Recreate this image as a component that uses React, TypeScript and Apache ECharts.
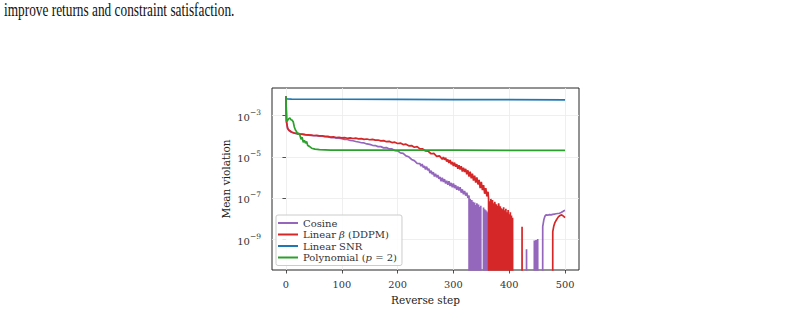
import React, { useEffect, useRef } from "react";
import * as echarts from "echarts";

// Tick positions (x in reverse steps, y as powers of ten)
const xTicks = [0, 100, 200, 300, 400, 500];
const yTickExponents = [-9, -7, -5, -3];

const seriesNames = ["Cosine", "Linear β (DDPM)", "Linear SNR", "Polynomial (p = 2)"];
const seriesColors = ["#9467bd", "#d62728", "#1f77b4", "#2ca02c"];

// Mean constraint violation per reverse step: [step, value]; 0 means no violation
const cosine: [number, number][] = [
  [0, 8.7e-3], [1, 5.0e-4], [3, 2.4e-4], [5, 1.95e-4], [10, 1.56e-4], [15, 1.4e-4],
  [20, 1.33e-4], [25, 1.25e-4], [30, 1.21e-4], [35, 1.16e-4], [40, 1.12e-4], [45, 1.1e-4],
  [50, 1.05e-4], [55, 1.05e-4], [60, 1.0e-4], [65, 1.0e-4], [70, 9.4e-5], [75, 9.3e-5],
  [80, 8.6e-5], [85, 8.6e-5], [90, 8.0e-5], [95, 8.0e-5], [100, 7.6e-5], [105, 7.0e-5],
  [110, 6.9e-5], [115, 6.2e-5], [120, 6.0e-5], [125, 5.5e-5], [130, 5.2e-5], [135, 4.8e-5],
  [140, 4.7e-5], [145, 4.2e-5], [150, 4.0e-5], [155, 3.6e-5], [160, 3.5e-5], [165, 3.1e-5],
  [170, 3.1e-5], [175, 2.7e-5], [180, 2.8e-5], [185, 2.4e-5], [190, 2.4e-5], [195, 2.0e-5],
  [200, 1.95e-5], [205, 1.55e-5], [210, 1.45e-5], [215, 1.1e-5], [220, 1.0e-5], [225, 7.4e-6],
  [230, 6.5e-6], [235, 4.8e-6], [240, 4.6e-6], [242, 3.5e-6], [244, 4.4e-6], [246, 3.0e-6],
  [248, 3.6e-6], [250, 2.4e-6], [252, 3.3e-6], [254, 2.2e-6], [256, 2.6e-6], [258, 1.6e-6],
  [260, 2.1e-6], [262, 1.4e-6], [264, 1.8e-6], [266, 1.1e-6], [268, 1.5e-6], [270, 1.0e-6],
  [272, 1.3e-6], [274, 8.5e-7], [276, 1.05e-6], [278, 6.5e-7], [280, 9.5e-7], [282, 6.0e-7],
  [284, 8.2e-7], [286, 5.0e-7], [288, 6.8e-7], [290, 4.4e-7], [292, 6.5e-7], [294, 3.8e-7],
  [296, 5.4e-7], [298, 3.3e-7], [300, 5.0e-7], [302, 3.0e-7], [304, 4.2e-7], [306, 2.5e-7],
  [308, 3.6e-7], [310, 2.3e-7], [312, 3.3e-7], [314, 1.8e-7], [316, 2.6e-7], [318, 1.5e-7],
  [320, 2.2e-7], [322, 1.3e-7], [324, 1.8e-7], [326, 1.0e-7], [328, 1.3e-7], [329, 0],
  [330, 9.0e-8], [331, 5.5e-8], [332, 0], [333, 8.0e-8], [334, 0], [335, 6.5e-8], [336, 4.0e-8],
  [337, 0], [338, 6.0e-8], [339, 0], [340, 4.5e-8], [341, 0], [342, 5.5e-8], [343, 3.5e-8],
  [344, 0], [345, 4.8e-8], [346, 0], [347, 3.6e-8], [348, 0], [349, 4.2e-8], [350, 0],
  [353, 0], [354, 3.4e-8], [355, 0], [356, 2.8e-8], [357, 0], [358, 2.5e-8], [359, 0],
  [360, 2.2e-8], [361, 0], [362, 1.9e-8], [363, 0], [430, 0], [431, 3.2e-10], [432, 0],
  [444, 0], [445, 8.5e-10], [446, 0], [448, 9.0e-10], [449, 0], [451, 1.0e-9], [452, 0],
  [459, 0], [460, 4.0e-9], [462, 8.7e-9], [464, 1.3e-8], [466, 1.5e-8], [469, 1.45e-8],
  [472, 1.55e-8], [475, 1.5e-8], [478, 1.6e-8], [481, 1.65e-8], [484, 1.7e-8], [487, 1.75e-8],
  [490, 1.8e-8], [493, 1.95e-8], [496, 2.2e-8], [498, 2.4e-8], [500, 2.5e-8],
];

const linearBeta: [number, number][] = [
  [0, 8.7e-3], [1, 5.0e-4], [3, 2.4e-4], [5, 2.0e-4], [10, 1.6e-4], [15, 1.42e-4],
  [20, 1.37e-4], [25, 1.27e-4], [30, 1.25e-4], [35, 1.18e-4], [40, 1.16e-4], [45, 1.13e-4],
  [50, 1.08e-4], [55, 1.09e-4], [60, 1.03e-4], [65, 1.04e-4], [70, 9.8e-5], [75, 9.7e-5],
  [80, 9.0e-5], [85, 9.2e-5], [90, 8.6e-5], [95, 8.8e-5], [100, 8.2e-5], [105, 8.5e-5],
  [110, 7.9e-5], [115, 8.3e-5], [120, 7.7e-5], [125, 8.0e-5], [130, 7.4e-5], [135, 7.6e-5],
  [140, 7.0e-5], [145, 7.3e-5], [150, 6.7e-5], [155, 7.0e-5], [160, 6.4e-5], [165, 6.5e-5],
  [170, 5.9e-5], [175, 6.1e-5], [180, 5.4e-5], [185, 5.6e-5], [190, 4.9e-5], [195, 5.1e-5],
  [200, 4.4e-5], [205, 4.6e-5], [210, 3.9e-5], [215, 4.1e-5], [220, 3.4e-5], [225, 3.5e-5],
  [230, 2.9e-5], [235, 3.1e-5], [240, 2.4e-5], [245, 2.4e-5], [250, 1.9e-5], [255, 1.85e-5],
  [260, 1.4e-5], [265, 1.45e-5], [270, 1.05e-5], [275, 1.1e-5], [280, 7.6e-6], [282, 9.5e-6],
  [284, 7.2e-6], [286, 8.9e-6], [288, 5.8e-6], [290, 7.4e-6], [292, 5.0e-6], [294, 6.9e-6],
  [296, 4.3e-6], [298, 5.6e-6], [300, 3.6e-6], [302, 5.2e-6], [304, 3.3e-6], [306, 4.4e-6],
  [308, 2.6e-6], [310, 3.9e-6], [312, 2.4e-6], [314, 3.5e-6], [316, 1.9e-6], [318, 2.9e-6],
  [320, 1.8e-6], [322, 2.6e-6], [324, 1.4e-6], [326, 2.2e-6], [328, 1.1e-6], [330, 1.9e-6],
  [332, 9.0e-7], [334, 1.5e-6], [336, 7.0e-7], [338, 1.2e-6], [340, 5.5e-7], [342, 1.0e-6],
  [344, 4.5e-7], [346, 7.5e-7], [348, 3.0e-7], [350, 6.0e-7], [352, 2.4e-7], [354, 4.2e-7],
  [356, 1.6e-7], [358, 3.0e-7], [360, 1.2e-7], [362, 2.0e-7], [363, 9.0e-8], [364, 0],
  [365, 7.0e-8], [366, 0], [367, 9.0e-8], [368, 4.5e-8], [369, 0], [370, 8.0e-8], [371, 0],
  [372, 5.5e-8], [373, 0], [374, 6.5e-8], [375, 3.8e-8], [376, 0], [377, 5.0e-8], [378, 0],
  [379, 4.2e-8], [380, 0], [381, 5.5e-8], [382, 3.0e-8], [383, 0], [384, 4.0e-8], [385, 0],
  [386, 3.2e-8], [387, 0], [388, 2.8e-8], [389, 0], [390, 3.5e-8], [391, 0], [392, 2.5e-8],
  [393, 0], [394, 3.0e-8], [395, 0], [396, 2.0e-8], [397, 0], [398, 2.6e-8], [399, 0],
  [400, 1.6e-8], [401, 0], [402, 2.0e-8], [403, 0], [404, 1.4e-8], [405, 0], [406, 1.1e-8],
  [407, 0], [422, 0], [423, 4.0e-9], [424, 0], [477, 0], [478, 2.3e-9], [480, 4.5e-9],
  [482, 6.5e-9], [485, 9.0e-9], [488, 1.2e-8], [491, 1.4e-8], [494, 1.5e-8], [497, 1.3e-8],
  [500, 1.1e-8],
];

const linearSnr: [number, number][] = [
  [0, 7.9e-3], [1, 6.6e-3], [3, 6.4e-3], [10, 6.3e-3], [100, 6.2e-3], [200, 6.1e-3],
  [300, 6.0e-3], [400, 5.9e-3], [500, 5.8e-3],
];

const polynomial: [number, number][] = [
  [0, 8.7e-3], [1, 5.6e-4], [2, 5.2e-4], [3, 5.0e-4], [5, 7.1e-4], [7, 7.6e-4], [9, 6.3e-4],
  [11, 6.0e-4], [13, 5.0e-4], [15, 2.8e-4], [17, 2.0e-4], [19, 1.66e-4], [21, 1.2e-4],
  [23, 1.41e-4], [25, 1.12e-4], [27, 7.1e-5], [29, 8.9e-5], [31, 5.0e-5], [33, 6.3e-5],
  [35, 4.5e-5], [37, 5.6e-5], [39, 3.5e-5], [42, 3.2e-5], [46, 2.6e-5], [52, 2.35e-5],
  [60, 2.2e-5], [80, 2.1e-5], [150, 2.1e-5], [300, 2.08e-5], [500, 2.05e-5],
];

const seriesData = [cosine, linearBeta, linearSnr, polynomial];

// Zero violation sits far below the visible range so the line drops off the plot
const FLOOR_EXPONENT = -40;
const toExponent = (pts: [number, number][]) =>
  pts.map(([s, v]) => [s, v > 0 ? Math.log10(v) : FLOOR_EXPONENT]);

const SERIF = '"DejaVu Serif", serif';

export default function App() {
  const ref = useRef<HTMLDivElement>(null);

  useEffect(() => {
    if (!ref.current) return;
    const chart = echarts.init(ref.current, undefined, { renderer: "svg" });
    chart.setOption({
      animation: false,
      backgroundColor: "#ffffff",
      graphic: [
        {
          type: "text",
          x: 4,
          y: 1,
          scaleX: 0.74,
          style: {
            text: "improve returns and constraint satisfaction.",
            font: '18px "Liberation Serif"',
            fill: "#111111",
            textVerticalAlign: "top",
          },
        },
      ],
      grid: {
        left: 272,
        top: 88,
        width: 307,
        height: 182,
        show: true,
        borderColor: "#262626",
        borderWidth: 1,
        backgroundColor: "transparent",
      },
      legend: {
        orient: "vertical",
        left: 276,
        top: 215,
        icon: "rect",
        itemWidth: 20,
        itemHeight: 2,
        itemGap: 1.5,
        padding: [3, 5, 3, 2],
        backgroundColor: "rgba(255,255,255,0.85)",
        borderColor: "#cccccc",
        borderWidth: 1,
        borderRadius: 2,
        data: seriesNames,
        formatter: (name: string) =>
          name.replace("β", "{i|β}").replace("(p", "({i|p}"),
        textStyle: {
          fontFamily: SERIF,
          fontSize: 10,
          lineHeight: 10,
          color: "#333333",
          rich: {
            i: { fontFamily: SERIF, fontSize: 10, fontStyle: "italic", color: "#333333" },
          },
        },
      },
      xAxis: {
        type: "value",
        min: -25,
        max: 525,
        name: "Reverse step",
        nameLocation: "middle",
        nameGap: 24,
        nameTextStyle: { fontFamily: SERIF, fontSize: 10.5, color: "#222222" },
        axisLine: { show: false },
        axisTick: {
          show: true,
          length: 3.5,
          inside: false,
          customValues: xTicks,
          lineStyle: { color: "#262626", width: 0.8 },
        },
        axisLabel: {
          customValues: xTicks,
          margin: 9,
          fontFamily: SERIF,
          fontSize: 9.8,
          color: "#333333",
        },
        splitLine: { show: true, lineStyle: { color: "#ebebeb", width: 0.8 } },
      },
      yAxis: {
        type: "value",
        min: -10.5,
        max: -1.66,
        name: "Mean violation",
        nameLocation: "middle",
        nameGap: 41,
        nameTextStyle: { fontFamily: SERIF, fontSize: 10.5, color: "#222222" },
        axisLine: { show: false },
        axisTick: {
          show: true,
          length: 3.5,
          inside: false,
          customValues: yTickExponents,
          lineStyle: { color: "#262626", width: 0.8 },
        },
        axisLabel: {
          customValues: yTickExponents,
          margin: 11,
          color: "#333333",
          formatter: (v: number) => `{b|10}{e|−${Math.abs(v)}}`,
          rich: {
            b: { fontFamily: SERIF, fontSize: 10, color: "#333333", lineHeight: 14, verticalAlign: "bottom" },
            e: { fontFamily: SERIF, fontSize: 7.5, color: "#333333", lineHeight: 8, verticalAlign: "top" },
          },
        },
        splitLine: { show: true, lineStyle: { color: "#ebebeb", width: 0.8 } },
      },
      series: seriesNames.map((name, i) => ({
        name,
        type: "line",
        data: toExponent(seriesData[i]),
        symbol: "none",
        showSymbol: false,
        clip: true,
        lineStyle: { color: seriesColors[i], width: 1.7 },
        itemStyle: { color: seriesColors[i] },
      })),
    });
    return () => chart.dispose();
  }, []);

  return (
    <div
      ref={ref}
      style={{ position: "absolute", left: 0, top: 0, width: 791, height: 314 }}
    />
  );
}
